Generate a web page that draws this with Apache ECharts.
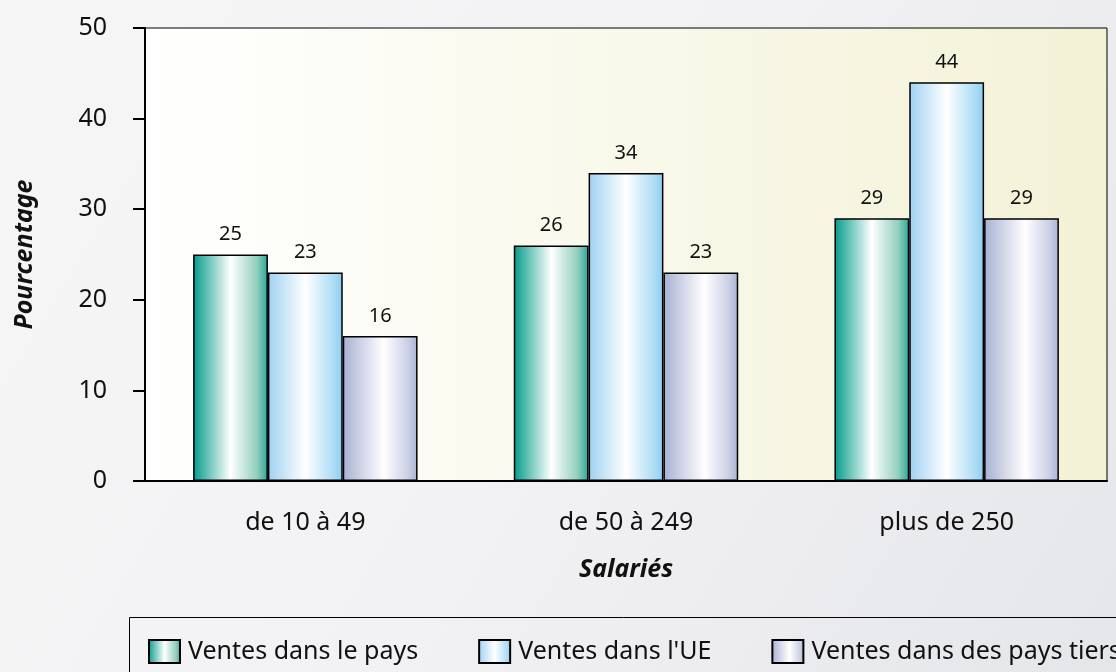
<!DOCTYPE html>
<html>
<head>
<meta charset="utf-8">
<script src="https://cdn.jsdelivr.net/npm/echarts@6/dist/echarts.min.js"></script>
<style>
  html, body { margin: 0; padding: 0; }
  #main { width: 1116px; height: 672px; }
</style>
</head>
<body>
<div id="main"></div>
<script>
var categories = ['de 10 à 49', 'de 50 à 249', 'plus de 250'];
var seriesNames = ['Ventes dans le pays', "Ventes dans l'UE", 'Ventes dans des pays tiers'];
var ventesPays = [25, 26, 29];
var ventesUE = [23, 34, 44];
var ventesTiers = [16, 23, 29];

var chartDom = document.getElementById('main');
var myChart = echarts.init(chartDom);
var G = echarts.graphic.LinearGradient;
var font = '"Noto Sans", "DejaVu Sans", sans-serif';

// horizontal "cylinder" fills for the bars
var tealFill = new G(0, 0, 1, 0, [
  {offset: 0, color: '#009c8c'},
  {offset: 0.12, color: '#3fb3a5'},
  {offset: 0.5, color: '#ffffff'},
  {offset: 0.85, color: '#93cfbf'},
  {offset: 1, color: '#2aa797'}
]);
var blueFill = new G(0, 0, 1, 0, [
  {offset: 0, color: '#9fd1f2'},
  {offset: 0.5, color: '#ffffff'},
  {offset: 0.88, color: '#acdcf5'},
  {offset: 1, color: '#8ccdf1'}
]);
var lavFill = new G(0, 0, 1, 0, [
  {offset: 0, color: '#a7b0d2'},
  {offset: 0.55, color: '#ffffff'},
  {offset: 0.88, color: '#c9cee4'},
  {offset: 1, color: '#a9b2d3'}
]);

function makeSeries(name, data, fill) {
  return {
    name: name,
    type: 'bar',
    data: data,
    barGap: '0%',
    barCategoryGap: '30%',
    itemStyle: { color: fill, borderColor: '#000', borderWidth: 1.5 },
    label: {
      show: true,
      position: 'top',
      distance: 10,
      fontFamily: font,
      fontSize: 20,
      color: '#111'
    }
  };
}

var option = {
  backgroundColor: new G(0, 0, 1, 1, [
    {offset: 0, color: '#f6f6f7'},
    {offset: 0.5, color: '#f2f2f4'},
    {offset: 1, color: '#e5e6ea'}
  ]),
  textStyle: { fontFamily: font },
  grid: {
    left: 145, right: 9, top: 28, bottom: 191,
    show: true,
    borderColor: '#000',
    borderWidth: 1,
    backgroundColor: new G(0, 0, 1, 0, [
      {offset: 0, color: '#ffffff'},
      {offset: 1, color: '#f3f2d6'}
    ])
  },
  legend: {
    left: 143,
    top: 634,
    width: 1400,
    icon: 'rect',
    itemWidth: 31,
    itemHeight: 23,
    itemGap: 60,
    textStyle: { fontFamily: font, fontSize: 25, color: '#111', padding: [0, 0, 0, 3] },
    data: seriesNames
  },
  xAxis: {
    type: 'category',
    data: categories,
    name: 'Salariés',
    nameLocation: 'middle',
    nameGap: 76,
    nameTextStyle: { fontFamily: font, fontSize: 25, fontWeight: 'bold', fontStyle: 'italic', color: '#111' },
    axisLine: { lineStyle: { color: '#000', width: 2 } },
    axisTick: { length: 10, lineStyle: { color: '#000', width: 2 } },
    axisLabel: { margin: 29, fontFamily: font, fontSize: 25, color: '#111' }
  },
  yAxis: {
    type: 'value',
    min: 0,
    max: 50,
    interval: 10,
    name: 'Pourcentage',
    nameLocation: 'middle',
    nameGap: 108,
    nameTextStyle: { fontFamily: font, fontSize: 25, fontWeight: 'bold', fontStyle: 'italic', color: '#111' },
    axisLine: { show: true, lineStyle: { color: '#000', width: 2 } },
    axisTick: { show: true, length: 12, lineStyle: { color: '#000', width: 2 } },
    axisLabel: { margin: 38, fontFamily: font, fontSize: 25, color: '#111' },
    splitLine: { show: false }
  },
  graphic: [{
    type: 'rect',
    left: 127,
    top: 615,
    shape: { width: 1100, height: 100 },
    style: { fill: 'none', stroke: '#000', lineWidth: 1 },
    z: -1
  }],
  series: [
    makeSeries(seriesNames[0], ventesPays, tealFill),
    makeSeries(seriesNames[1], ventesUE, blueFill),
    makeSeries(seriesNames[2], ventesTiers, lavFill)
  ]
};

option && myChart.setOption(option);
</script>
</body>
</html>
